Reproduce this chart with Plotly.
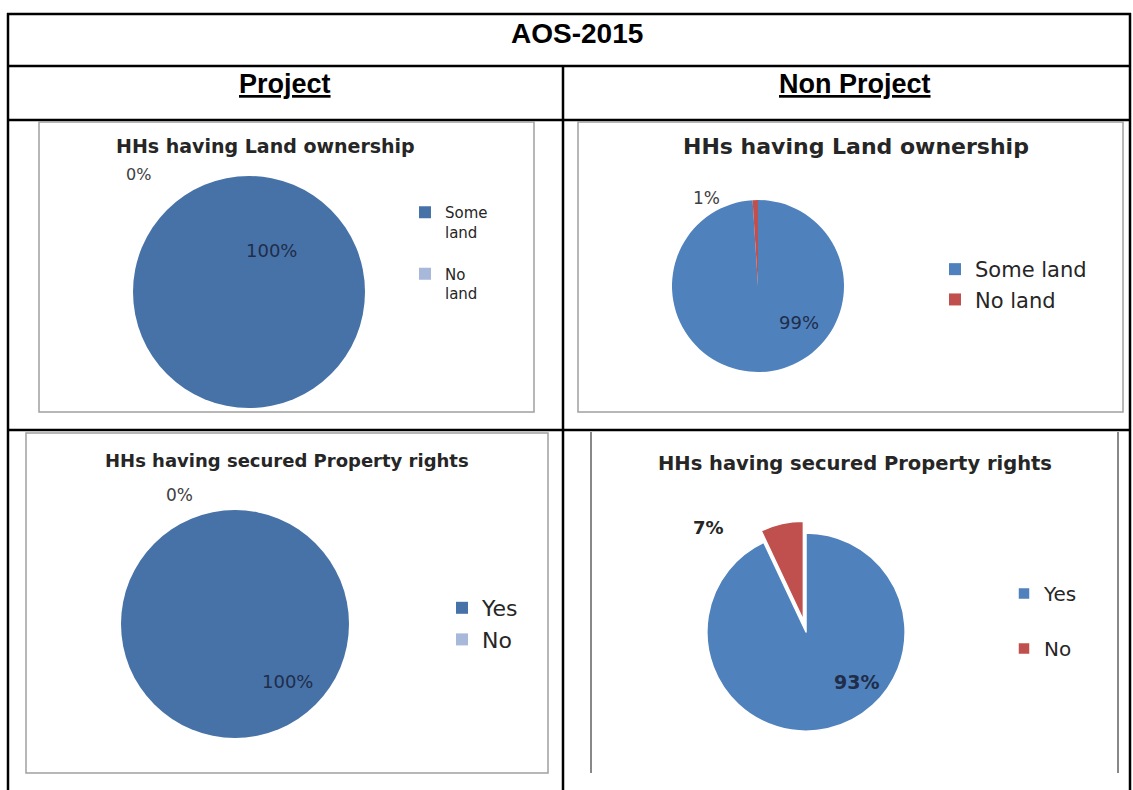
import plotly.graph_objects as go

# ---------------- data ----------------
table_title = "AOS-2015"
column_headers = ["Project", "Non Project"]
chart_titles = ["HHs having Land ownership", "HHs having Land ownership",
                "HHs having secured Property rights", "HHs having secured Property rights"]

land_labels = ["Some land", "No land"]
project_land = [100, 0]
nonproject_land = [99, 1]

rights_labels = ["Yes", "No"]
project_rights = [100, 0]
nonproject_rights = [93, 7]

# ---------------- helpers ----------------
W, H = 1133, 790


def X(px):
    return px / W


def Y(py):
    return 1 - py / H


proj_colors = ["#4672A8", "#A7B8DA"]
nonproj_colors = ["#4F81BD", "#C0504D"]
TXT = "#262626"
FONT = "DejaVu Sans"

fig = go.Figure()


def add_pie(labels, values, colors, cx, cy, d, legend, group, pull=None, line_w=0):
    r = d / 2
    fig.add_trace(go.Pie(
        labels=labels, values=values, sort=False, direction="clockwise", rotation=0,
        marker=dict(colors=colors, line=dict(color="white", width=line_w)),
        textinfo="none", hoverinfo="label+percent", pull=pull,
        domain=dict(x=[X(cx - r), X(cx + r)], y=[Y(cy + r), Y(cy - r)]),
        legend=legend, legendgroup=group, showlegend=True,
    ))


# top-left: project land ownership (legend entries wrapped as in the reference)
add_pie([l.replace(" ", "<br>") + "<br> " for l in land_labels], project_land, proj_colors,
        249, 292, 232, "legend", "g1")
# top-right: non project land ownership
add_pie(land_labels, nonproject_land, nonproj_colors, 758, 286, 172, "legend2", "g2")
# bottom-left: project property rights
add_pie(rights_labels, project_rights, proj_colors, 235, 624, 228, "legend3", "g3")
# bottom-right: non project property rights (No slice pulled out, wider legend spacing)
add_pie([l + "<br> " for l in rights_labels], nonproject_rights, nonproj_colors,
        806, 632, 222, "legend4", "g4", pull=[0, 0.12], line_w=1.5)

# ---------------- table lines and chart frames ----------------
shapes = []
BLK = dict(color="black", width=2.5)


def hline(y, x0, x1, line):
    shapes.append(dict(type="line", xref="paper", yref="paper", x0=X(x0), x1=X(x1),
                       y0=Y(y), y1=Y(y), line=line, layer="below"))


def vline(x, y0, y1, line):
    shapes.append(dict(type="line", xref="paper", yref="paper", x0=X(x), x1=X(x),
                       y0=Y(y0), y1=Y(y1), line=line, layer="below"))


hline(14, 7, 1131, BLK)
hline(66, 7, 1131, BLK)
hline(120, 7, 1131, BLK)
hline(430, 7, 1131, BLK)
vline(8, 13, 790, BLK)
vline(1130, 13, 790, BLK)
vline(563, 66, 790, BLK)

GRY = dict(color="#A0A0A0", width=1.5)
for (x0, y0, x1, y1) in [(39, 122, 534, 412), (578, 122, 1123, 412), (26, 433, 548, 773)]:
    shapes.append(dict(type="rect", xref="paper", yref="paper", x0=X(x0), x1=X(x1),
                       y0=Y(y1), y1=Y(y0), line=GRY, fillcolor="white", layer="below"))
vline(591, 432, 773, dict(color="#606060", width=1.5))
vline(1118, 432, 773, dict(color="#606060", width=1.5))

# ---------------- text ----------------
ann = []


def text(s, x, y, size, family=FONT, color=TXT, bold=False):
    if bold:
        s = "<b>" + s + "</b>"
    ann.append(dict(text=s, x=X(x), y=Y(y), xref="paper", yref="paper", showarrow=False,
                    xanchor="center", yanchor="middle",
                    font=dict(size=size, family=family, color=color)))


text(table_title, 577, 33, 28, family="Liberation Sans", color="black", bold=True)
text("<u>" + column_headers[0] + "</u>", 285, 84, 27, family="Liberation Sans", color="black", bold=True)
text("<u>" + column_headers[1] + "</u>", 855, 84, 27, family="Liberation Sans", color="black", bold=True)

text(chart_titles[0], 265, 146, 19, bold=True)
text(chart_titles[1], 856, 146, 22, bold=True)
text(chart_titles[2], 287, 460, 18, bold=True)
text(chart_titles[3], 855, 463, 19.5, bold=True)

# data labels
text(f"{project_land[1]}%", 138, 174, 16, color="#404040")
text(f"{project_land[0]}%", 271, 250, 18, color="#1F2D4A")
text(f"{nonproject_land[1]}%", 706, 198, 17, color="#404040")
text(f"{nonproject_land[0]}%", 799, 323, 18, color="#1F2D4A")
text(f"{project_rights[1]}%", 179, 495, 17, color="#404040")
text(f"{project_rights[0]}%", 287, 681, 18, color="#1F2D4A")
text(f"{nonproject_rights[1]}%", 708, 527, 18, color="#262626", bold=True)
text(f"{nonproject_rights[0]}%", 856, 682, 19, color="#1F2D4A", bold=True)


def legend_cfg(x_text, y_top, size, valign="middle"):
    return dict(x=X(x_text - 40), y=Y(y_top), xanchor="left", yanchor="top",
                bgcolor="rgba(0,0,0,0)", borderwidth=0, valign=valign,
                font=dict(family=FONT, size=size, color=TXT))


fig.update_layout(
    width=W, height=H, autosize=False,
    margin=dict(l=0, r=0, t=0, b=0),
    paper_bgcolor="white", plot_bgcolor="white",
    shapes=shapes, annotations=ann,
    legend=legend_cfg(445, 196, 15, "top"),
    legend2=legend_cfg(975, 249, 21),
    legend3=legend_cfg(482, 587, 22),
    legend4=legend_cfg(1044, 574, 20, "top"),
)

fig.write_html("out.html", config={"displayModeBar": False},
               post_script="document.body.style.margin='0';")
